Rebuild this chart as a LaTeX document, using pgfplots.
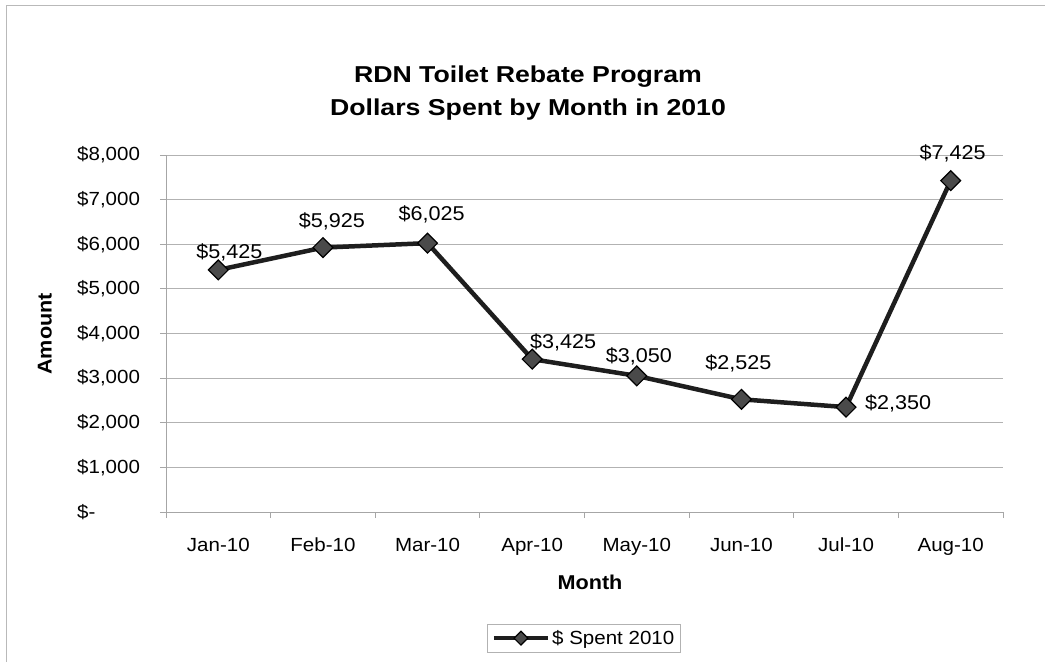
\documentclass[border=0pt]{standalone}
\usepackage{pgfplots}
\pgfplotsset{compat=1.18}
\usepackage{fontspec}
\setmainfont{Liberation Sans}[FakeStretch=1.08]
\newfontfamily\titlefont{Liberation Sans}[FakeStretch=1.16]
\definecolor{linecol}{HTML}{1E1E1E}
\definecolor{markfill}{HTML}{4A4A4A}
\begin{document}
\begin{tikzpicture}[x=1pt,y=1pt]
\path[use as bounding box] (0,0) rectangle (1045,662);
\draw[gray!55, line width=0.8pt] (6,0) -- (6,657) -- (1045,657);
\begin{axis}[
  at={(166pt,150pt)}, anchor=south west,
  scale only axis, width=837pt, height=357pt,
  xmin=-0.5, xmax=7.5, ymin=0, ymax=8000,
  axis x line*=bottom, axis y line*=left,
  axis line style={gray!70, line width=0.8pt},
  ymajorgrids, grid style={gray!60, line width=0.8pt},
  xtick={0,...,7},
  xticklabels={Jan-10,Feb-10,Mar-10,Apr-10,May-10,Jun-10,Jul-10,Aug-10},
  minor xtick={-0.5,0.5,...,7.5},
  tick align=outside, major tick length=6pt, minor tick length=6pt,
  tick style={gray!70, line width=0.8pt},
  major x tick style={draw=none},
  ytick={0,1000,...,8000},
  yticklabels={{\$-},{\$1,000},{\$2,000},{\$3,000},{\$4,000},{\$5,000},{\$6,000},{\$7,000},{\$8,000}},
  /pgf/number format/assume math mode=true,
  ticklabel style={font=\fontsize{19}{22}\selectfont},
  yticklabel style={anchor=west, inner sep=0pt, xshift=-83pt},
  xticklabel style={inner sep=0pt, yshift=-20pt},
  xlabel={Month}, ylabel={Amount},
  label style={font=\bfseries\fontsize{20}{24}\selectfont},
  xlabel style={at={(axis description cs:0.5066,-0.196)}, anchor=center},
  ylabel style={at={(axis description cs:-0.1446,0.4986)}, anchor=center},
  legend style={at={(axis description cs:0.4994,-0.3137)}, anchor=north,
    draw=gray!60, line width=0.8pt, font=\fontsize{19}{22}\selectfont,
    inner sep=4pt},
  legend image code/.code={\draw[#1, every mark/.append style={scale=0.7}, mark repeat=2, mark phase=2] plot coordinates {(0pt,0pt) (27pt,0pt) (54pt,0pt)};},
  nodes near coords={\$\pgfmathprintnumber[1000 sep={,}]{\pgfplotspointmeta}},
  nodes near coords align={center},
  visualization depends on={\thisrow{dx} \as \dx},
  visualization depends on={\thisrow{dy} \as \dy},
  every node near coord/.append style={font=\fontsize{20}{24}\selectfont, black, anchor=center, xshift=\dx pt, yshift=\dy pt},
]
\addplot[color=linecol, line width=4.5pt, mark=square*, mark size=7pt,
  mark options={rotate=45, fill=markfill, draw=black, line width=1.2pt}]
  table[x=x, y=y, meta=y] {
x y dx dy
0 5425 11 18
1 5925 9 26
2 6025 4 29
3 3425 31 17
4 3050 2 20
5 2525 -3 36
6 2350 52 4
7 7425 2 27
};
\addlegendentry{\$ Spent 2010}
\end{axis}
\node[font=\titlefont\bfseries\fontsize{23}{33}\selectfont, align=center] at (528,569) {RDN Toilet Rebate Program\\Dollars Spent by Month in 2010};
\end{tikzpicture}
\end{document}
